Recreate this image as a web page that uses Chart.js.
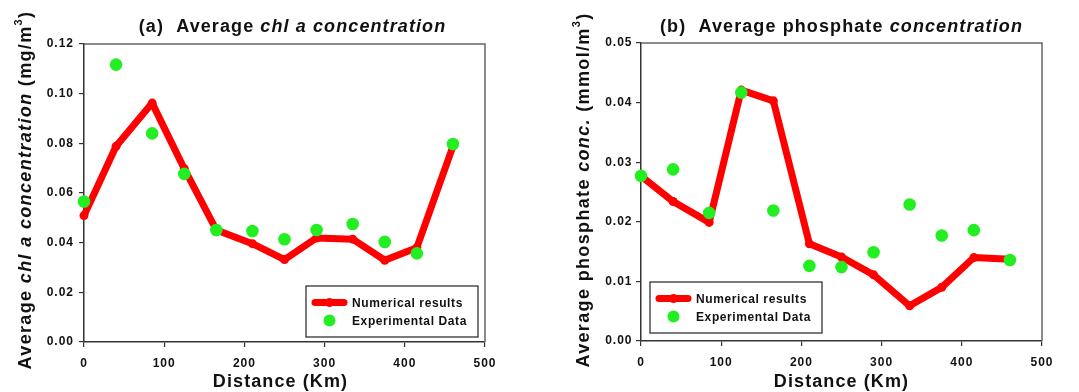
<!DOCTYPE html>
<html>
<head>
<meta charset="utf-8">
<script src="https://cdn.jsdelivr.net/npm/chart.js@4.4.1/dist/chart.umd.min.js"></script>
<style>
    html, body { margin: 0; padding: 0; background: #fff; }
    .row { display: flex; width: 1079px; height: 392px; }
    canvas { display: block; }
</style>
</head>
<body>
<div class="row">
    <canvas id="chlChart" width="540" height="392"></canvas>
    <canvas id="po4Chart" width="539" height="392"></canvas>
</div>
<script>
// distance along the transect (Km)
const distance = [0, 40, 85, 125, 165, 210, 250, 290, 335, 375, 415, 460];

// (a) chl a, mg/m3
const chlModel = [0.0509, 0.0788, 0.0962, 0.0698, 0.0451, 0.0396, 0.0332, 0.0419, 0.0414, 0.0329, 0.0380, 0.0788];
const chlObs   = [0.0566, 0.1117, 0.0840, 0.0677, 0.0451, 0.0447, 0.0414, 0.0451, 0.0475, 0.0403, 0.0357, 0.0797];

// (b) phosphate, mmol/m3
const po4Model = [0.0277, 0.0234, 0.0199, 0.0421, 0.0403, 0.0163, 0.0141, 0.0111, 0.0059, 0.0090, 0.0140, 0.0137];
const po4Obs   = [0.0277, 0.0288, 0.0215, 0.0417, 0.0219, 0.0126, 0.0124, 0.0149, 0.0229, 0.0177, 0.0186, 0.0136];

const seriesNames = ['Numerical results', 'Experimental Data'];

const FONT = "'Liberation Sans', Arial, sans-serif";
const RED = '#ff0000';
const GREEN = '#22ee22';

const toPoints = (xs, ys) => xs.map((x, i) => ({ x: x, y: ys[i] }));

// draw a line of text made of plain / italic / superscript pieces, centred on x
function drawRich(ctx, segs, x, y, size, spacing) {
    const fontOf = s => (s.i ? 'italic ' : '') + 'bold ' + (s.sup ? Math.round(size * 0.62) : size) + 'px ' + FONT;
    ctx.letterSpacing = spacing + 'px';
    let total = 0;
    const widths = segs.map(s => {
        ctx.font = fontOf(s);
        const w = ctx.measureText(s.t).width;
        total += w;
        return w;
    });
    let cx = x - total / 2;
    ctx.textAlign = 'left';
    ctx.textBaseline = 'alphabetic';
    segs.forEach((s, k) => {
        ctx.font = fontOf(s);
        ctx.fillText(s.t, cx, s.sup ? y - size * 0.5 : y);
        cx += widths[k];
    });
}

const decor = {
    id: 'decor',
    beforeDraw(chart) {
        chart.ctx.letterSpacing = '1px';
    },
    beforeDatasetsDraw(chart) {
        // top and right frame
        const { ctx, chartArea: a } = chart;
        ctx.save();
        ctx.strokeStyle = '#666';
        ctx.lineWidth = 1.5;
        ctx.beginPath();
        ctx.moveTo(a.left, a.top);
        ctx.lineTo(a.right, a.top);
        ctx.lineTo(a.right, a.bottom);
        ctx.stroke();
        ctx.restore();
    },
    afterDraw(chart, args, opts) {
        const { ctx, chartArea: a } = chart;
        const mid = (a.left + a.right) / 2;
        ctx.save();
        ctx.fillStyle = '#111';

        // title
        drawRich(ctx, opts.title, mid + opts.titleShift, 32, 18, 1.1);

        // x axis title
        drawRich(ctx, [{ t: 'Distance (Km)' }], mid + opts.xTitleShift, 387, 18, 1.1);

        // y axis title
        ctx.save();
        ctx.translate(opts.yTitleX, 190);
        ctx.rotate(-Math.PI / 2);
        drawRich(ctx, opts.yTitle, 0, 6, 18, 1.35);
        ctx.restore();

        // legend box
        const w = 172, h = 51;
        const bx = opts.legendRight ? a.right - 7 - w : a.left + 9;
        const by = a.bottom - opts.legendBottom - h;
        ctx.fillStyle = '#fff';
        ctx.fillRect(bx, by, w, h);
        ctx.strokeStyle = '#222';
        ctx.lineWidth = 1.2;
        ctx.strokeRect(bx, by, w, h);

        const line = chart.data.datasets[1];
        const dots = chart.data.datasets[0];
        const r1 = by + 16.5, r2 = by + 34.5;
        ctx.strokeStyle = line.borderColor;
        ctx.lineWidth = 7;
        ctx.lineCap = 'round';
        ctx.beginPath();
        ctx.moveTo(bx + 9, r1);
        ctx.lineTo(bx + 38, r1);
        ctx.stroke();
        ctx.fillStyle = line.borderColor;
        ctx.beginPath();
        ctx.arc(bx + 23.5, r1, 4.5, 0, Math.PI * 2);
        ctx.fill();
        ctx.fillStyle = dots.backgroundColor;
        ctx.beginPath();
        ctx.arc(bx + 23.5, r2, 6, 0, Math.PI * 2);
        ctx.fill();

        ctx.fillStyle = '#111';
        ctx.font = 'bold 12px ' + FONT;
        ctx.letterSpacing = '0.6px';
        ctx.textAlign = 'left';
        ctx.textBaseline = 'middle';
        ctx.fillText(line.label, bx + 46, r1 + 1);
        ctx.fillText(dots.label, bx + 46, r2 + 1);
        ctx.restore();
    }
};

function makeChart(id, model, obs, yMax, yStep, opts) {
    const axisColor = '#333';
    return new Chart(document.getElementById(id), {
        type: 'scatter',
        data: {
            datasets: [{
                label: seriesNames[1],
                data: toPoints(distance, obs),
                backgroundColor: GREEN,
                borderColor: GREEN,
                pointRadius: 6.3,
                pointBorderWidth: 0,
                clip: false
            }, {
                label: seriesNames[0],
                type: 'line',
                data: toPoints(distance, model),
                borderColor: RED,
                backgroundColor: RED,
                borderWidth: 7,
                borderJoinStyle: 'round',
                borderCapStyle: 'round',
                pointRadius: 4.5,
                pointBorderWidth: 0,
                pointBackgroundColor: RED,
                tension: 0,
                clip: false
            }]
        },
        options: {
            responsive: false,
            animation: false,
            events: [],
            layout: {
                padding: { top: opts.padTop, right: opts.padRight, left: 0, bottom: 0 }
            },
            plugins: {
                legend: { display: false },
                tooltip: { enabled: false },
                decor: opts
            },
            scales: {
                x: {
                    type: 'linear',
                    min: 0,
                    max: 500,
                    afterFit: s => { s.height = opts.xHeight; },
                    grid: { drawOnChartArea: false, tickLength: 5, color: axisColor, lineWidth: 1.2 },
                    border: { color: axisColor, width: 1.5 },
                    ticks: {
                        stepSize: 100,
                        padding: 9,
                        color: '#111',
                        font: { family: FONT, size: 12, weight: 'bold' }
                    }
                },
                y: {
                    type: 'linear',
                    min: 0,
                    max: yMax,
                    afterFit: s => { s.width = opts.yWidth; },
                    grid: { drawOnChartArea: false, tickLength: 5, color: axisColor, lineWidth: 1.2 },
                    border: { color: axisColor, width: 1.5 },
                    ticks: {
                        stepSize: yStep,
                        padding: opts.yPad,
                        color: '#111',
                        font: { family: FONT, size: 12, weight: 'bold' },
                        callback: v => v.toFixed(2)
                    }
                }
            }
        },
        plugins: [decor]
    });
}

makeChart('chlChart', chlModel, chlObs, 0.12, 0.02, {
    padTop: 44, padRight: 55, xHeight: 50, yWidth: 84, yPad: 5,
    title: [{ t: '(a)  Average ' }, { t: 'chl a concentration', i: true }],
    titleShift: 8, xTitleShift: -4,
    yTitle: [{ t: 'Average ' }, { t: 'chl a concentration', i: true }, { t: ' (mg/m' }, { t: '3', sup: true }, { t: ')' }],
    yTitleX: 25,
    legendRight: true, legendBottom: 5
});

makeChart('po4Chart', po4Model, po4Obs, 0.05, 0.01, {
    padTop: 43, padRight: 37, xHeight: 51, yWidth: 101, yPad: 3.5,
    title: [{ t: '(b)  Average phosphate ' }, { t: 'concentration', i: true }],
    titleShift: 0, xTitleShift: 0,
    yTitle: [{ t: 'Average phosphate ' }, { t: 'conc.', i: true }, { t: ' (mmol/m' }, { t: '3', sup: true }, { t: ')' }],
    yTitleX: 43,
    legendRight: false, legendBottom: 8
});
</script>
</body>
</html>
